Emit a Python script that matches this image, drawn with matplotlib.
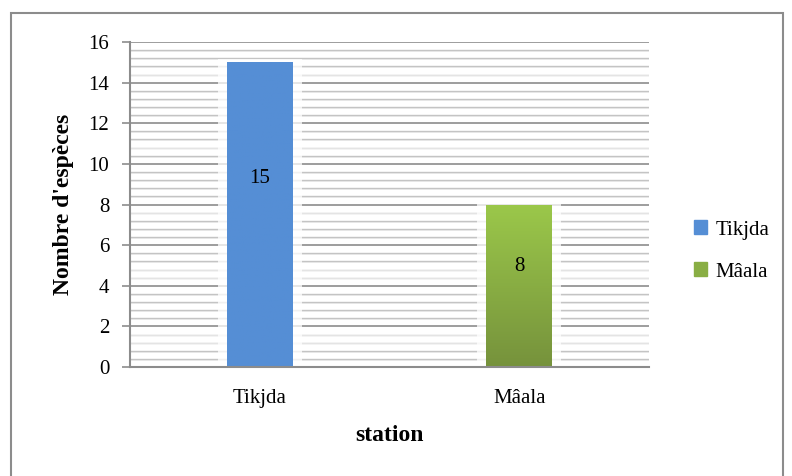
import numpy as np
import matplotlib.pyplot as plt
from matplotlib.patches import Rectangle
from matplotlib.colors import LinearSegmentedColormap

stations = ['Tikjda', 'Mâala']
especes = [15, 8]
couleurs_haut = ['#558ED5', '#9BC84A']
couleurs_bas = ['#558ED5', '#76923C']

plt.rcParams['font.family'] = ['Liberation Serif', 'DejaVu Serif']

fig = plt.figure(figsize=(7.92, 4.76), dpi=100)
ax = fig.add_axes([130/792, 1 - 367/476, 519/792, 325/476])

x = np.arange(len(stations))
largeur = 0.254

# grille horizontale: majeure tous les 2, mineure tous les 0.4
for v in np.arange(0.4, 16.01, 0.4):
    majeure = abs(v / 2 - round(v / 2)) < 1e-6
    if majeure:
        ax.axhline(v, color='#8c8c8c', lw=1.2, zorder=1)
    else:
        ax.axhline(v, color='#c4c4c4', lw=1.0, zorder=1)
        ax.axhline(v - 0.04, color='#e6e6e6', lw=0.7, zorder=1)

bars = ax.bar(x, especes, width=largeur, color='none', zorder=3)
for i, b in enumerate(bars):
    x0 = b.get_x()
    h = b.get_height()
    # halo blanc autour de la barre
    ax.add_patch(Rectangle((x0 - 0.035, 0), largeur + 0.07, h + 0.15,
                           color='white', alpha=0.75, lw=0, zorder=2))
    cmap = LinearSegmentedColormap.from_list('g', [couleurs_bas[i], couleurs_haut[i]])
    grad = np.linspace(0, 1, 256).reshape(-1, 1)
    im = ax.imshow(grad, cmap=cmap, origin='lower', aspect='auto',
                   extent=(x0, x0 + largeur, 0, h), zorder=3)
    im.set_clip_path(b)
    ax.text(x[i], especes[i] * 0.62, str(especes[i]), ha='center', va='center',
            fontsize=15, zorder=4)

ax.set_xlim(-0.5, 1.5)
ax.set_ylim(0, 16)
ax.set_yticks(np.arange(0, 17, 2))
ax.set_xticks(x)
ax.set_xticklabels(stations)
ax.tick_params(axis='y', length=6, width=1.2, color='#8c8c8c', pad=9, labelsize=15)
ax.tick_params(axis='x', length=0, pad=16, labelsize=15)

for s in ['top', 'right']:
    ax.spines[s].set_visible(False)
for s in ['left', 'bottom']:
    ax.spines[s].set_color('#8c8c8c')
    ax.spines[s].set_linewidth(1.5)
    ax.spines[s].set_zorder(5)

ax.set_ylabel("Nombre d'espèces", fontsize=17, fontweight='bold', labelpad=10)
ax.set_xlabel('station', fontsize=17, fontweight='bold', labelpad=12)

# légende à droite
moyennes = ['#558ED5', '#89AE44']
handles = [Rectangle((0, 0), 1, 1, color=c) for c in moyennes]
fig.legend(handles, stations, loc='center left', bbox_to_anchor=(675/792, 1 - 251/476),
           frameon=False, fontsize=15, handlelength=0.65, handleheight=0.65,
           handletextpad=0.4, labelspacing=1.1)

# cadre du graphique
fig.add_artist(Rectangle((10.5/792, -0.1), 772/792, 1.1 - 13/476, transform=fig.transFigure,
                         fill=False, edgecolor='#8c8c8c', lw=1.5))

fig.savefig('out.png', dpi=100)
